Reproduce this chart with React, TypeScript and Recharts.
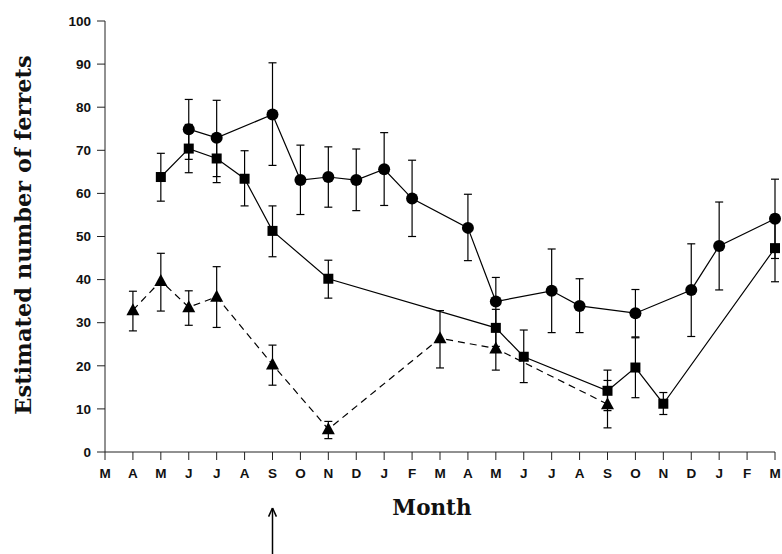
import { ErrorBar, Label, Line, LineChart, ReferenceLine, XAxis, YAxis } from 'recharts';

const months = ['M', 'A', 'M', 'J', 'J', 'A', 'S', 'O', 'N', 'D', 'J', 'F', 'M', 'A', 'M', 'J', 'J', 'A', 'S', 'O', 'N', 'D', 'J', 'F', 'M'];
const yTicks = [0, 10, 20, 30, 40, 50, 60, 70, 80, 90, 100];

// circles
const circleMean = [null, null, null, 74.9, 72.9, null, 78.3, 63.1, 63.8, 63.1, 65.6, 58.8, null, 52.0, 34.9, null, 37.4, 33.9, null, 32.2, null, 37.6, 47.8, null, 54.1];
const circleLow = [null, null, null, 67.9, 63.9, null, 66.5, 55.1, 56.8, 56.0, 57.2, 50.0, null, 44.4, 29.3, null, 27.7, 27.7, null, 26.7, null, 26.8, 37.6, null, 44.9];
const circleHigh = [null, null, null, 81.8, 81.6, null, 90.3, 71.2, 70.8, 70.3, 74.1, 67.7, null, 59.8, 40.5, null, 47.1, 40.2, null, 37.7, null, 48.3, 58.0, null, 63.3];

// squares
const squareMean = [null, null, 63.8, 70.4, 68.1, 63.4, 51.3, null, 40.2, null, null, null, null, null, 28.8, 22.1, null, null, 14.2, 19.6, 11.2, null, null, null, 47.3];
const squareLow = [null, null, 58.2, 64.8, 62.5, 57.1, 45.3, null, 35.7, null, null, null, null, null, 24.5, 16.1, null, null, 9.6, 12.6, 8.7, null, null, null, 39.5];
const squareHigh = [null, null, 69.3, 76.0, 73.7, 69.9, 57.1, null, 44.5, null, null, null, null, null, 33.1, 28.3, null, null, 19.0, 26.5, 13.8, null, null, null, 55.1];

// triangles (dashed)
const triMean = [null, 32.9, 39.7, 33.6, 36.0, null, 20.3, null, 5.3, null, null, null, 26.4, null, 24.0, null, null, null, 11.1, null, null, null, null, null, null];
const triLow = [null, 28.1, 32.7, 29.4, 28.9, null, 15.5, null, 3.1, null, null, null, 19.5, null, 19.0, null, null, null, 5.6, null, null, null, null, null, null];
const triHigh = [null, 37.3, 46.1, 37.4, 43.0, null, 24.8, null, 7.1, null, null, null, 32.8, null, 29.0, null, null, null, 16.6, null, null, null, null, null, null];

const err = (m: number | null, lo: number | null, hi: number | null) =>
  m == null || lo == null || hi == null ? null : [m - lo, hi - m];

const data = months.map((m, i) => ({
  i,
  month: m,
  circle: circleMean[i],
  circleErr: err(circleMean[i], circleLow[i], circleHigh[i]),
  square: squareMean[i],
  squareErr: err(squareMean[i], squareLow[i], squareHigh[i]),
  tri: triMean[i],
  triErr: err(triMean[i], triLow[i], triHigh[i]),
}));

const CircleDot = (props: any) => {
  const { cx, cy, index } = props;
  if (cx == null || cy == null || props.value == null) return <g key={`c${index}`} />;
  return <circle key={`c${index}`} cx={cx} cy={cy} r={6} fill='#000' />;
};

const SquareDot = (props: any) => {
  const { cx, cy, index } = props;
  if (cx == null || cy == null || props.value == null) return <g key={`s${index}`} />;
  return <rect key={`s${index}`} x={cx - 5} y={cy - 5} width={10} height={10} fill='#000' />;
};

const TriDot = (props: any) => {
  const { cx, cy, index } = props;
  if (cx == null || cy == null || props.value == null) return <g key={`t${index}`} />;
  return <path key={`t${index}`} d={`M${cx},${cy - 7} L${cx + 6.5},${cy + 5} L${cx - 6.5},${cy + 5} Z`} fill='#000' />;
};

const tickStyle = { fontFamily: '"Liberation Sans", Arial, sans-serif', fontSize: 13.5, fontWeight: 'bold', fill: '#111' };
const titleFont = '"DejaVu Serif", serif';

export default function App() {
  return (
    <div style={{ position: 'absolute', left: 0, top: 0, background: '#fff' }}>
      <LineChart width={782} height={554} data={data} margin={{ top: 21, right: 7, left: 45, bottom: 72 }}>
        <XAxis
          type='number'
          dataKey='i'
          domain={[0, 24]}
          ticks={months.map((_, i) => i)}
          tickFormatter={(v) => months[v]}
          interval={0}
          height={30}
          stroke='#222'
          tickSize={8}
          tickMargin={8}
          tick={tickStyle}
        >
          <Label
            content={() => (
              <text x={432} y={515} textAnchor='middle' fontFamily={titleFont} fontWeight='bold' fontSize={21.5} fill='#111'>
                Month
              </text>
            )}
          />
        </XAxis>
        <YAxis
          type='number'
          domain={[0, 100]}
          ticks={yTicks}
          interval={0}
          width={60}
          stroke='#222'
          tickSize={8}
          tickMargin={6}
          tick={tickStyle}
        >
          <Label
            content={() => (
              <text
                x={31}
                y={235}
                transform='rotate(-90 31 235)'
                textAnchor='middle'
                fontFamily={titleFont}
                fontWeight='bold'
                fontSize={22.5}
                fill='#111'
              >
                Estimated number of ferrets
              </text>
            )}
          />
        </YAxis>
        <ReferenceLine segment={[{ x: 6, y: -13 }, { x: 6, y: -24 }]} stroke='#000' strokeWidth={1.5} ifOverflow='visible' />
        <ReferenceLine segment={[{ x: 6, y: -13 }, { x: 5.86, y: -15 }]} stroke='#000' strokeWidth={1.5} ifOverflow='visible' />
        <ReferenceLine segment={[{ x: 6, y: -13 }, { x: 6.14, y: -15 }]} stroke='#000' strokeWidth={1.5} ifOverflow='visible' />
        <Line dataKey='circle' stroke='#000' strokeWidth={1.2} connectNulls dot={CircleDot} activeDot={false} isAnimationActive={false}>
          <ErrorBar dataKey='circleErr' width={4} stroke='#000' strokeWidth={1.2} direction='y' />
        </Line>
        <Line dataKey='square' stroke='#000' strokeWidth={1.2} connectNulls dot={SquareDot} activeDot={false} isAnimationActive={false}>
          <ErrorBar dataKey='squareErr' width={4} stroke='#000' strokeWidth={1.2} direction='y' />
        </Line>
        <Line dataKey='tri' stroke='#000' strokeWidth={1.2} strokeDasharray='7 5' connectNulls dot={TriDot} activeDot={false} isAnimationActive={false}>
          <ErrorBar dataKey='triErr' width={4} stroke='#000' strokeWidth={1.2} direction='y' />
        </Line>
      </LineChart>
    </div>
  );
}
